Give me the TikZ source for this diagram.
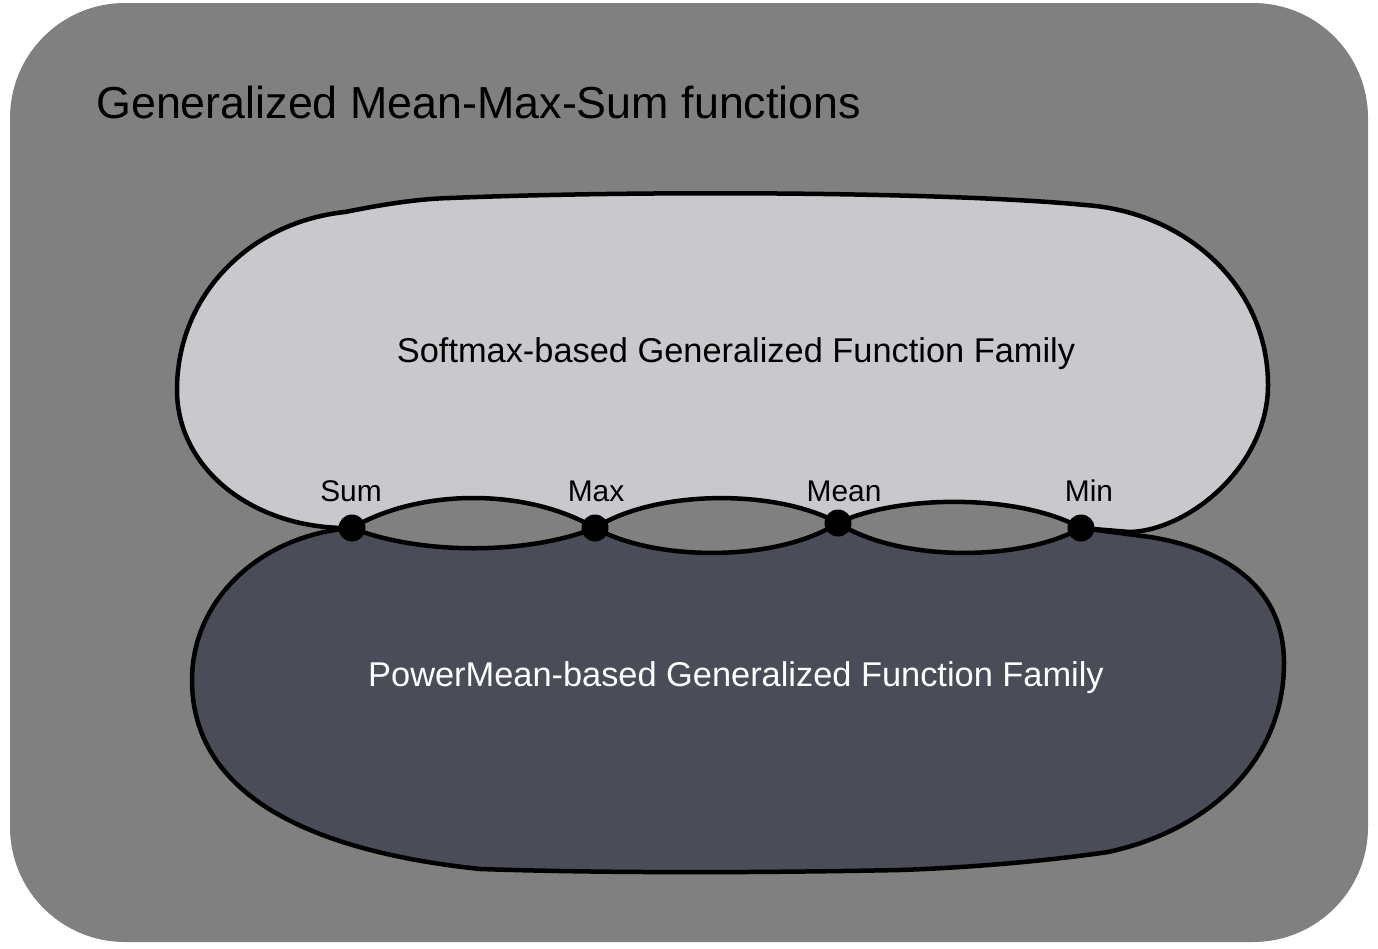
\documentclass[tikz,border=0pt]{standalone}
\usepackage{fontspec}
\setmainfont{Liberation Sans}
\definecolor{bggray}{RGB}{128,128,128}
\definecolor{softfill}{RGB}{201,200,205}
\definecolor{powerfill}{RGB}{74,76,88}
\tikzset{
  blob/.style={draw=black, line width=4.5bp, line join=round},
  dotnode/.style={circle, fill=black, inner sep=0pt, minimum size=27bp},
  ptlabel/.style={anchor=base, font=\fontsize{30}{32}\selectfont, text=black, inner sep=0pt},
  famlabel/.style={anchor=base, font=\fontsize{34.5}{38}\selectfont, inner sep=0pt},
}
\begin{document}
\begin{tikzpicture}[x=1bp,y=-1bp]
\useasboundingbox (0,0) rectangle (1378,948);
\fill[bggray, rounded corners=115bp] (10,3) rectangle (1368,942);
\node[anchor=base west, inner sep=0pt, font=\fontsize{45}{48}\selectfont] (title) at (96,118) {Generalized Mean-Max-Sum functions};

\coordinate (csum) at (352,528);
\coordinate (cmax) at (595,528);
\coordinate (cmean) at (838,523);
\coordinate (cmin) at (1081,528);

% upper blob
\path[blob, fill=softfill] (csum)
 .. controls (255,530) and (177,470) .. (177,390)
 .. controls (177,295) and (250,222) .. (345,212)
 .. controls (380,205) and (415,199) .. (450,198)
 .. controls (650,190) and (950,192) .. (1085,205)
 .. controls (1186,212) and (1268,286) .. (1268,385)
 .. controls (1268,465) and (1190,530) .. (1130,532)
 -- (cmin)
 .. controls (1020,494) and (899,494) .. (cmean)
 .. controls (777,489) and (656,489) .. (cmax)
 .. controls (527,488) and (420,488) .. (csum) -- cycle;

% lower blob
\path[blob, fill=powerfill] (cmin)
 -- (1150,537)
 .. controls (1230,550) and (1284,590) .. (1284,663)
 .. controls (1284,760) and (1210,830) .. (1108,852)
 .. controls (1040,862) and (960,868) .. (900,870)
 .. controls (750,873) and (600,873) .. (480,869)
 .. controls (300,850) and (192,790) .. (192,680)
 .. controls (192,600) and (260,535) .. (csum)
 .. controls (420,555) and (527,555) .. (cmax)
 .. controls (656,562) and (777,562) .. (cmean)
 .. controls (899,562) and (1020,562) .. (cmin) -- cycle;

\node[dotnode] (sum) at (csum) {};
\node[dotnode] (max) at (cmax) {};
\node[dotnode] (mean) at (cmean) {};
\node[dotnode] (min) at (cmin) {};

\node[ptlabel] (sumlabel) at (351,501) {Sum};
\node[ptlabel] (maxlabel) at (596,501) {Max};
\node[ptlabel] (meanlabel) at (844,501) {Mean};
\node[ptlabel] (minlabel) at (1089,501) {Min};

\node[famlabel, text=black] (soft) at (736,362) {Softmax-based Generalized Function Family};
\node[famlabel, text=white] (power) at (736,686) {PowerMean-based Generalized Function Family};
\end{tikzpicture}
\end{document}
